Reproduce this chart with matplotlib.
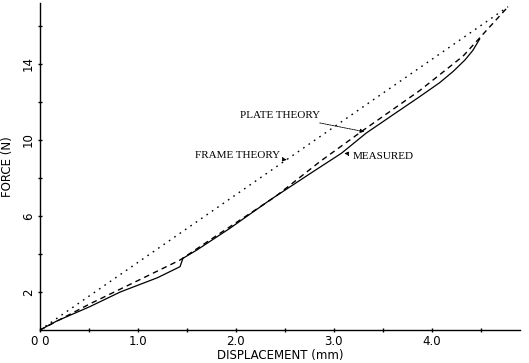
import numpy as np
import matplotlib
matplotlib.use("Agg")
import matplotlib.pyplot as plt

# measured force-displacement curve
meas_x = [0, 0.17, 0.51, 0.82, 1.2, 1.43, 1.46, 1.6, 1.94, 2.35, 2.79, 3.08, 3.33, 3.6, 3.88, 4.08, 4.22, 4.34, 4.42, 4.49]
meas_y = [0, 0.47, 1.23, 2.0, 2.75, 3.33, 3.77, 4.2, 5.35, 6.84, 8.33, 9.3, 10.35, 11.3, 12.28, 13.0, 13.6, 14.2, 14.7, 15.3]

# plate theory (dashed)
plate_x = [0, 0.5, 1.0, 1.43, 1.84, 2.4, 2.86, 3.3, 3.88, 4.32, 4.78]
plate_y = [0, 1.35, 2.6, 3.68, 5.09, 7.0, 8.86, 10.5, 12.6, 14.4, 17.0]

# frame theory (dotted, straight)
frame_x = [0, 4.78]
frame_y = [0, 17.0]

xticks = [0, 1, 2, 3, 4]
xlabels = ["0 0", "1.0", "2.0", "3.0", "4.0"]
yticks = [2, 6, 10, 14]
ylabels = ["2", "6", "10", "14"]

fig = plt.figure(figsize=(5.29, 3.63), dpi=100)
ax = fig.add_axes([0.0756, 0.0909, 0.907, 0.901])

ax.plot(frame_x, frame_y, color="black", lw=1.0, linestyle=(0, (1.2, 3.5)))
ax.plot(plate_x, plate_y, color="black", lw=1.0, linestyle=(0, (4, 3)))
ax.plot(meas_x, meas_y, color="black", lw=0.9)

ax.set_xlim(0, 4.9)
ax.set_ylim(0, 17.2)
for s in ["top", "right"]:
    ax.spines[s].set_visible(False)
ax.spines["left"].set_linewidth(1.0)
ax.spines["bottom"].set_linewidth(1.0)

ax.set_xticks(xticks)
ax.set_xticklabels(xlabels, fontsize=8.5)
ax.set_xticks(np.arange(0.5, 4.9, 1.0), minor=True)
ax.set_yticks(yticks)
ax.set_yticklabels(ylabels, fontsize=8.5, rotation=90, va="center")
ax.set_yticks([4, 8, 12, 16], minor=True)
ax.tick_params(which="both", direction="inout", length=3, width=1, pad=2)

ax.set_xlabel("DISPLACEMENT (mm)", fontsize=8.5, labelpad=1)
ax.set_ylabel("FORCE (N)", fontsize=8.5, labelpad=6)

tfont = dict(family="Liberation Serif", fontsize=8)
arr = dict(arrowstyle="-|>", lw=0.6, color="black", mutation_scale=6, linestyle=(0, (2, 1)))
ax.annotate("PLATE THEORY", xy=(3.34, 10.4), xytext=(2.86, 11.3),
            ha="right", va="center", arrowprops=arr, **tfont)
ax.annotate("FRAME THEORY", xy=(2.52, 8.95), xytext=(2.45, 9.2),
            ha="right", va="center", arrowprops=arr, **tfont)
ax.annotate("MEASURED", xy=(3.08, 9.3), xytext=(3.19, 9.15),
            ha="left", va="center", arrowprops=arr, **tfont)

fig.savefig("out.png", dpi=100)
